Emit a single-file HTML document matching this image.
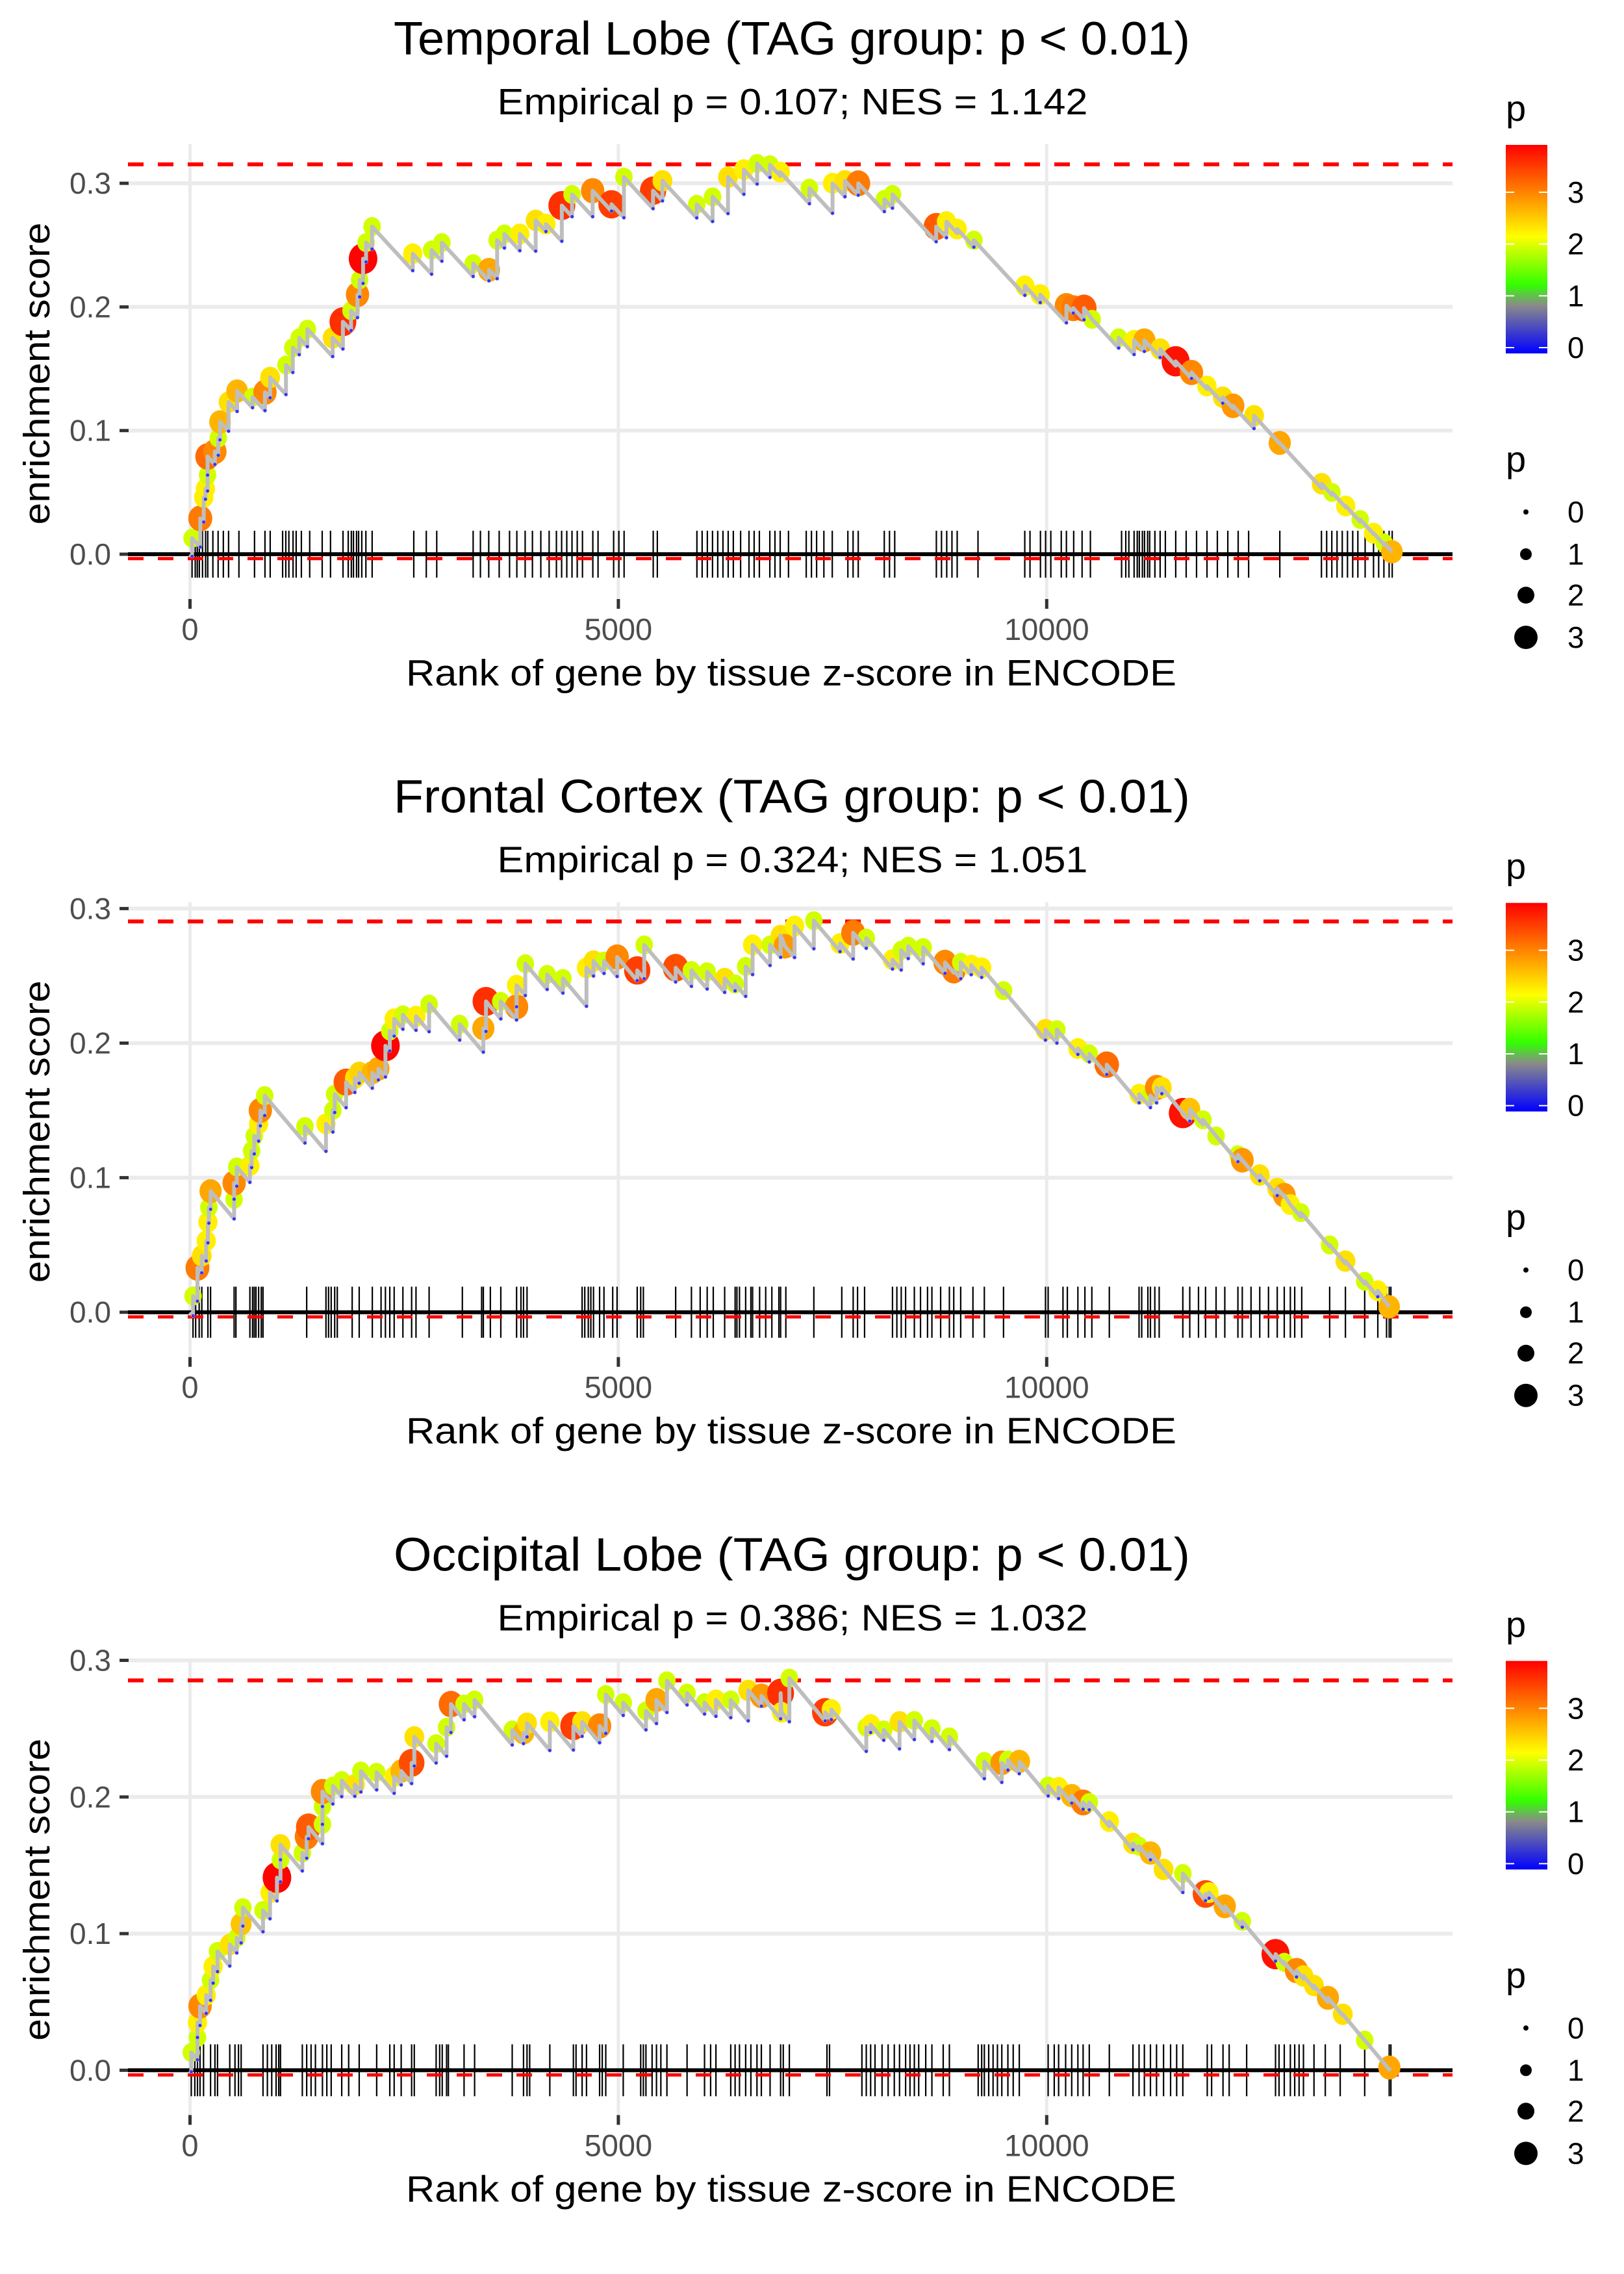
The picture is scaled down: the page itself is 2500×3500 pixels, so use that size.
<!DOCTYPE html>
<html><head><meta charset="utf-8"><style>
html,body{margin:0;padding:0;background:#fff}
svg{display:block}
text{font-family:"Liberation Sans",sans-serif}
</style></head><body>
<svg id="chart" xmlns="http://www.w3.org/2000/svg" width="2500" height="3500" viewBox="0 0 2500 3500">
<defs>
<linearGradient id="pgrad" x1="0" y1="1" x2="0" y2="0">
<stop offset="0" stop-color="#0000ff"/>
<stop offset="0.23" stop-color="#8a8a8a"/>
<stop offset="0.33" stop-color="#33ff00"/>
<stop offset="0.56" stop-color="#ffff00"/>
<stop offset="1" stop-color="#ff0000"/>
</linearGradient>
</defs>
<rect x="0" y="0" width="2500" height="3500" fill="#fff"/>
</svg>
<script>
// ---------- data ----------
const panelTitles = ["Temporal Lobe (TAG group: p < 0.01)","Frontal Cortex (TAG group: p < 0.01)","Occipital Lobe (TAG group: p < 0.01)"];
const panelSubtitles = ["Empirical p = 0.107; NES = 1.142","Empirical p = 0.324; NES = 1.051","Empirical p = 0.386; NES = 1.032"];
const maxES = [0.3153, 0.2904, 0.2853];
const minES = [-0.002, -0.002, -0.002];
const xTicks = [0, 5000, 10000];
const xTickLabels = ["0","5000","10000"];
const yTicks = [0, 0.1, 0.2, 0.3];
const yTickLabels = ["0.0","0.1","0.2","0.3"];
const legendTicks = [0,1,2,3];

const p1Ranks = [24,120,160,180,205,205,290,330,350,450,550,730,875,935,1120,1200,1275,1370,1665,1785,1880,1955,1980,2020,2055,2125,2600,2820,2940,3305,3490,3585,3670,3850,4035,4155,4340,4460,4700,4920,5065,5405,5515,5915,6100,6280,6465,6620,6770,6890,7230,7500,7645,7800,8105,8200,8710,8830,8955,9150,9745,9925,10230,10310,10435,10530,10840,11020,11140,11325,11505,11690,11870,12055,12175,12420,12720,13210,13330,13490,13660,13815,13940,14030];
const p1ES = [0.013,0.029,0.046,0.053,0.064,0.079,0.083,0.094,0.107,0.123,0.132,0.127,0.131,0.143,0.153,0.167,0.175,0.182,0.175,0.188,0.197,0.21,0.222,0.239,0.252,0.265,0.243,0.246,0.252,0.235,0.23,0.254,0.259,0.259,0.27,0.267,0.282,0.291,0.294,0.283,0.305,0.294,0.302,0.283,0.289,0.305,0.311,0.316,0.315,0.309,0.296,0.3,0.302,0.3,0.287,0.291,0.265,0.269,0.263,0.254,0.217,0.21,0.201,0.199,0.199,0.19,0.175,0.173,0.173,0.166,0.156,0.147,0.136,0.127,0.12,0.112,0.09,0.057,0.05,0.039,0.028,0.017,0.009,0.002];
const p1P = [2.0,3.1,2.3,2.3,2.0,3.2,3.0,2.0,2.7,2.4,2.7,2.0,3.0,2.4,2.0,2.0,2.0,2.0,2.4,3.6,2.0,3.0,2.0,3.9,2.0,2.0,2.3,2.0,2.0,2.0,2.8,2.0,2.0,2.3,2.4,2.3,3.6,2.0,3.0,3.5,2.0,3.5,2.4,2.0,2.0,2.4,2.3,2.0,2.0,2.3,2.0,2.3,2.4,3.1,2.0,2.0,3.3,2.3,2.3,2.0,2.3,2.3,3.0,3.1,3.3,2.0,2.0,2.3,2.8,2.4,3.8,3.0,2.3,2.4,2.9,2.4,2.8,2.4,2.0,2.3,2.0,2.3,2.0,2.7];
const p1Rug = [24,61,85,109,146,182,207,267,328,389,450,571,753,875,936,1081,1118,1154,1203,1239,1300,1397,1543,1640,1786,1847,1883,1908,1944,1968,2005,2053,2126,2612,2758,2880,3305,3390,3487,3609,3730,3815,3912,3997,4095,4192,4277,4338,4398,4459,4520,4581,4702,4763,4945,5006,5067,5407,5455,5917,5978,6039,6099,6160,6221,6282,6342,6427,6525,6585,6646,6768,6828,6889,6986,7193,7254,7314,7399,7497,7679,7740,7800,8104,8165,8226,8712,8772,8833,8894,8955,9198,9744,9805,9927,9987,10048,10170,10230,10315,10413,10510,10874,10923,10959,11020,11057,11081,11117,11142,11178,11202,11263,11324,11385,11506,11628,11749,11871,11992,12114,12235,12357,12721,13207,13268,13328,13389,13450,13511,13572,13632,13717,13815,13875,13936,13997,14033];

const p2Ranks = [36,87,137,189,209,220,240,515,515,546,699,719,750,801,821,872,1342,1587,1668,1689,1822,1924,1975,2128,2199,2281,2332,2383,2485,2638,2791,3148,3424,3455,3628,3812,3812,3914,4169,4353,4628,4710,4833,4986,5220,5302,5669,5853,6037,6241,6363,6486,6567,6771,6894,6945,7057,7282,7588,7741,7894,8200,8302,8384,8558,8813,8915,8997,9119,9241,9496,9986,10119,10364,10497,10701,11079,11211,11283,11344,11589,11670,11824,11977,12232,12283,12487,12691,12773,12844,12967,13303,13487,13712,13865,13997];
const p2ES = [0.012,0.033,0.042,0.053,0.067,0.078,0.09,0.084,0.096,0.108,0.109,0.12,0.131,0.14,0.15,0.161,0.138,0.14,0.15,0.162,0.171,0.174,0.178,0.178,0.181,0.198,0.209,0.218,0.221,0.22,0.229,0.214,0.211,0.231,0.231,0.227,0.243,0.259,0.251,0.248,0.256,0.261,0.261,0.264,0.254,0.273,0.256,0.254,0.253,0.248,0.244,0.257,0.273,0.273,0.28,0.272,0.287,0.291,0.274,0.282,0.278,0.262,0.269,0.272,0.271,0.26,0.254,0.26,0.258,0.256,0.239,0.21,0.21,0.196,0.192,0.184,0.162,0.161,0.167,0.167,0.148,0.151,0.143,0.131,0.117,0.113,0.102,0.092,0.087,0.08,0.074,0.05,0.038,0.023,0.016,0.004];
const p2P = [2.0,3.1,2.4,2.3,2.3,2.0,2.8,2.0,3.0,2.0,2.3,2.0,2.0,2.3,3.0,2.0,2.0,2.3,2.0,2.0,3.3,2.4,2.5,2.7,2.8,3.9,2.0,2.3,2.0,2.3,2.0,2.0,2.8,3.6,2.0,3.0,2.3,2.0,2.0,2.0,2.3,2.4,2.0,3.0,3.5,2.0,3.4,2.0,2.0,2.4,2.0,2.0,2.3,2.0,2.4,2.9,2.3,2.0,2.3,3.1,2.0,2.3,2.0,2.0,2.0,3.0,3.1,2.0,2.3,2.3,2.0,2.4,2.0,2.3,2.0,3.2,2.3,2.0,3.0,2.4,3.8,2.6,2.0,2.0,2.0,2.9,2.4,2.4,2.9,2.3,2.0,2.0,2.4,2.0,2.3,2.7];
const p2Rug = [35,66,107,138,209,240,515,536,699,730,750,770,801,832,852,1362,1587,1617,1648,1689,1719,1893,1975,2128,2230,2281,2332,2383,2485,2587,2638,2791,3179,3404,3424,3506,3628,3812,3863,3893,3934,4577,4608,4649,4679,4710,4781,4832,4934,4985,5220,5261,5292,5669,5853,5955,6037,6108,6241,6363,6384,6414,6486,6547,6567,6649,6720,6792,6874,6894,6955,7282,7608,7741,7792,7874,8200,8251,8302,8353,8455,8527,8609,8660,8762,8864,8915,8996,9139,9272,9496,9986,10017,10190,10241,10364,10446,10527,10731,11078,11109,11181,11211,11262,11313,11589,11670,11772,11854,11977,12079,12232,12283,12385,12487,12589,12691,12773,12844,12895,12977,13303,13487,13712,13865,13967,13998,14018];

const p3Ranks = [15,87,87,117,189,240,270,321,464,546,597,617,852,934,1015,1056,1056,1311,1362,1383,1546,1546,1546,1668,1771,1924,1995,2179,2383,2465,2587,2618,2873,2995,3046,3199,3322,3761,3893,3934,4200,4475,4577,4781,4853,5057,5322,5445,5567,5802,6006,6139,6312,6516,6670,6894,6904,6996,7414,7486,7894,7945,8098,8282,8455,8660,8864,9272,9476,9547,9680,10017,10139,10292,10425,10497,10731,11007,11078,11211,11364,11589,11854,11895,12079,12283,12671,12773,12916,12997,13120,13283,13456,13712,14000];
const p3ES = [0.013,0.024,0.035,0.047,0.055,0.066,0.076,0.087,0.092,0.097,0.107,0.119,0.117,0.13,0.141,0.154,0.165,0.159,0.171,0.178,0.18,0.193,0.204,0.208,0.212,0.209,0.219,0.218,0.215,0.219,0.225,0.244,0.239,0.251,0.268,0.268,0.271,0.249,0.247,0.254,0.255,0.252,0.255,0.252,0.275,0.269,0.263,0.271,0.285,0.276,0.269,0.271,0.271,0.278,0.274,0.276,0.262,0.287,0.262,0.264,0.251,0.253,0.249,0.255,0.256,0.25,0.244,0.226,0.225,0.227,0.226,0.208,0.207,0.201,0.196,0.196,0.182,0.166,0.164,0.159,0.147,0.144,0.129,0.13,0.12,0.109,0.085,0.079,0.073,0.069,0.062,0.053,0.041,0.022,0.002];
const p3P = [2.0,2.0,2.3,3.0,2.3,2.0,2.3,2.0,2.4,2.0,2.6,2.0,2.0,2.3,3.9,2.0,2.4,2.0,3.1,3.3,2.0,2.0,3.0,2.0,2.0,2.4,2.0,2.0,2.3,2.7,3.4,2.4,2.0,2.0,3.2,2.0,2.0,2.0,2.7,2.4,2.3,3.5,2.4,3.0,2.0,2.0,2.0,2.8,2.0,2.0,2.0,2.3,2.0,2.4,2.9,3.6,2.3,2.0,3.5,2.3,2.0,2.3,2.0,2.4,2.0,2.0,2.0,2.0,2.9,2.0,2.7,2.0,2.3,2.7,3.1,2.0,2.3,2.4,2.0,2.7,2.4,2.0,3.4,2.3,2.8,2.0,3.8,2.0,3.0,2.4,2.4,2.8,2.4,2.0,2.8];
const p3Rug = [15,56,87,117,158,240,291,321,464,525,566,597,852,903,954,1005,1036,1056,1311,1362,1413,1464,1546,1597,1648,1771,1852,1975,2179,2332,2383,2465,2587,2618,2873,2914,2944,2995,3016,3199,3322,3761,3893,3934,3965,4200,4475,4506,4577,4628,4781,4812,4853,5057,5261,5292,5322,5394,5445,5496,5567,5802,6006,6077,6139,6312,6363,6414,6486,6547,6618,6669,6771,6894,6925,6996,7435,7465,7843,7894,7945,7996,8078,8149,8221,8282,8353,8404,8455,8506,8588,8660,8792,8864,9200,9241,9272,9323,9374,9425,9476,9547,9609,9680,10017,10088,10139,10221,10292,10364,10425,10497,10731,11007,11078,11140,11211,11282,11364,11446,11517,11589,11874,11925,12058,12130,12334,12671,12712,12773,12844,12895,12946,12997,13120,13252,13426,13712,13998,14018];

const allRanks = [p1Ranks,p2Ranks,p3Ranks];
const allES = [p1ES,p2ES,p3ES];
const allP = [p1P,p2P,p3P];
const allRug = [p1Rug,p2Rug,p3Rug];

// ---------- layout ----------
const NS = "http://www.w3.org/2000/svg";
const svg = document.getElementById('chart');
const PANEL_H = 1166.7;
const LEFT = 197, RIGHT = 2236, TOP = 222, BOTTOM = 928;
const ZERO_Y = 853;
const yScaleK = [1903, 2071, 2103];
const X0 = 292.5, XK = 0.13188;
const DROP = 7.5e-5;
function xS(r){ return X0 + r*XK; }
function mk(tag, attrs, parent){
  const e = document.createElementNS(NS, tag);
  for (const k in attrs) e.setAttribute(k, attrs[k]);
  (parent||svg).appendChild(e);
  return e;
}
const cStops = [[0,[0,0,255]],[0.9,[138,138,138]],[1.3,[51,255,0]],[2.2,[255,255,0]],[3.92,[255,0,0]]];
function pColor(v){
  if (v<=cStops[0][0]) return 'rgb(0,0,255)';
  for (let i=1;i<cStops.length;i++){
    if (v<=cStops[i][0]){
      const a=cStops[i-1], b=cStops[i], t=(v-a[0])/(b[0]-a[0]);
      const c=a[1].map((x,j)=>Math.round(x+(b[1][j]-x)*t));
      return 'rgb('+c.join(',')+')';
    }
  }
  return 'rgb(255,0,0)';
}
function pRad(v){ return 4.5 + 4.5*v; }

for (let k=0;k<3;k++){
  const off = k*PANEL_H;
  const yS = v => off + ZERO_Y - v*yScaleK[k];
  const g = mk('g', {});
  
  

  yTicks.forEach((t,i)=>{
    const y = yS(t);
    if (y < off+TOP-5) return;
    const l = mk('line',{x1:LEFT,x2:RIGHT,y1:y,y2:y,stroke:'#ebebeb','stroke-width':6},g);
    
    
    const tk = mk('line',{x1:184,x2:198,y1:y,y2:y,stroke:'#333','stroke-width':5},g);
    
    
    const tx = mk('text',{x:171,y:y+16,'text-anchor':'end','font-size':46,fill:'#4d4d4d'},g);
    tx.textContent = yTickLabels[i];
    
    
  });
  xTicks.forEach((t,i)=>{
    const x = xS(t);
    const l = mk('line',{x1:x,x2:x,y1:off+TOP,y2:off+BOTTOM,stroke:'#ebebeb','stroke-width':5},g);
    
    
    const tk = mk('line',{x1:x,x2:x,y1:off+922,y2:off+937,stroke:'#333','stroke-width':5},g);
    
    
    const tx = mk('text',{x:x,y:off+985,'text-anchor':'middle','font-size':47,fill:'#4d4d4d'},g);
    tx.textContent = xTickLabels[i];
    
    
  });

  const rugTop = yS(0.019), rugBot = yS(-0.019);
  allRug[k].forEach(r=>{
    const l = mk('line',{x1:xS(r),x2:xS(r),y1:rugTop,y2:rugBot,stroke:'#000','stroke-width':2.2},g);
    
    
  });
  const zl = mk('line',{x1:LEFT,x2:RIGHT,y1:yS(0),y2:yS(0),stroke:'#000','stroke-width':6},g);
  
  
  const rmax = mk('line',{x1:LEFT,x2:RIGHT,y1:yS(maxES[k]),y2:yS(maxES[k]),stroke:'#ff0000','stroke-width':6,'stroke-dasharray':'24 22'},g);
  
  
  const rmin = mk('line',{x1:LEFT,x2:RIGHT,y1:yS(minES[k])+3,y2:yS(minES[k])+3,stroke:'#ff0000','stroke-width':5,'stroke-dasharray':'24 22'},g);
  
  

  const R = allRanks[k], E = allES[k], P = allP[k];
  for (let i=0;i<R.length;i++){
    const c = mk('ellipse',{cx:xS(R[i]),cy:yS(E[i]),rx:pRad(P[i]),ry:pRad(P[i])*1.08,fill:pColor(P[i])},g);
    
    
  }
  let d = 'M'+xS(0)+','+yS(0);
  let prev = 0, prevR = 0;
  const bottoms = [];
  for (let i=0;i<R.length;i++){
    let bot = prev - DROP*(R[i]-prevR);
    bot = Math.max(Math.min(bot, E[i]), -0.01);
    d += ' L'+xS(R[i])+','+yS(bot)+' L'+xS(R[i])+','+yS(E[i]);
    if (E[i]-bot > 0.004) bottoms.push([R[i],bot]);
    prev = E[i]; prevR = R[i];
  }
  const path = mk('path',{d:d,fill:'none',stroke:'#bebebe','stroke-width':6,'stroke-linejoin':'round'},g);
  
  
  bottoms.forEach(b=>{
    const c = mk('circle',{cx:xS(b[0]),cy:yS(b[1]),r:2.5,fill:'#3333ff'},g);
    
    
  });

  const t1 = mk('text',{x:1219,y:off+84,'text-anchor':'middle','font-size':72,fill:'#000',textLength:1226,lengthAdjust:'spacingAndGlyphs'},g);
  t1.textContent = panelTitles[k];
  
  
  const t2 = mk('text',{x:1220,y:off+176,'text-anchor':'middle','font-size':57,fill:'#000',textLength:909,lengthAdjust:'spacingAndGlyphs'},g);
  t2.textContent = panelSubtitles[k];
  
  
  const xt = mk('text',{x:1218,y:off+1055,'text-anchor':'middle','font-size':57,fill:'#000',textLength:1186,lengthAdjust:'spacingAndGlyphs'},g);
  xt.textContent = 'Rank of gene by tissue z-score in ENCODE';
  
  
  const yt = mk('text',{x:0,y:0,'text-anchor':'middle','font-size':57,fill:'#000',textLength:465,lengthAdjust:'spacingAndGlyphs',transform:'translate(76,'+(off+575)+') rotate(-90)'},g);
  yt.textContent = 'enrichment score';
  
  

  const lp = mk('text',{x:2318,y:off+186,'font-size':56,fill:'#000'},g);
  lp.textContent = 'p';
  
  
  const bar = mk('rect',{x:2318,y:off+223,width:64,height:321,fill:'url(#pgrad)'},g);
  
  
  const lbY = v => off + 535 - v*79.7;
  legendTicks.forEach(v=>{
    const y = lbY(v);
    const a = mk('line',{x1:2318,x2:2331,y1:y,y2:y,stroke:'#fff','stroke-width':2},g);
    
    
    const b = mk('line',{x1:2369,x2:2382,y1:y,y2:y,stroke:'#fff','stroke-width':2},g);
    
    
    const t = mk('text',{x:2413,y:y+16,'font-size':46,fill:'#000'},g);
    t.textContent = String(v);
    
    
  });
  const sp = mk('text',{x:2318,y:off+726,'font-size':56,fill:'#000'},g);
  sp.textContent = 'p';
  
  
  const sizeY = [788,853,916,981];
  const sizeR = [4,9,13,18];
  legendTicks.forEach((v,i)=>{
    const c = mk('circle',{cx:2349,cy:off+sizeY[i],r:sizeR[i],fill:'#000'},g);
    
    
    const t = mk('text',{x:2413,y:off+sizeY[i]+16,'font-size':46,fill:'#000'},g);
    t.textContent = String(v);
    
    
  });
}
</script>
</body></html>
